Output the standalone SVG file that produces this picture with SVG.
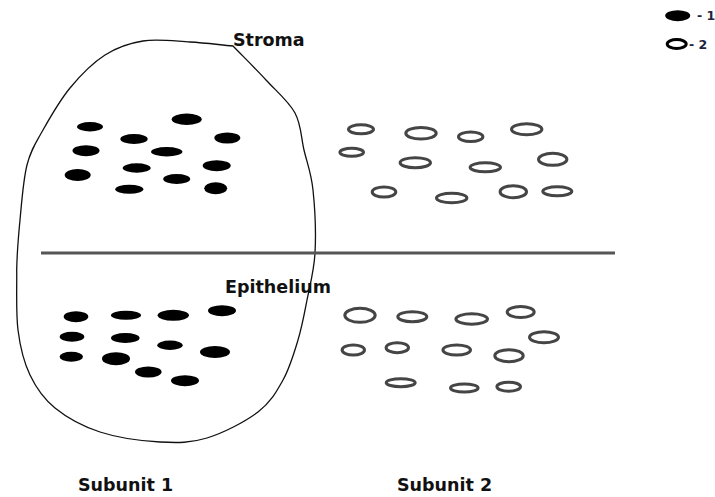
<svg xmlns="http://www.w3.org/2000/svg" width="715" height="497" viewBox="0 0 715 497">
<style>
  .lbl { font-family: "DejaVu Sans", "Liberation Sans", sans-serif; font-weight: bold; font-size: 17.5px; fill: #111; }
  .leg { font-family: "DejaVu Sans", "Liberation Sans", sans-serif; font-weight: bold; font-size: 12.5px; fill: #1c2440; }
  .f { fill: #000; stroke: none; }
  .o { fill: none; stroke: #454545; stroke-width: 3; }
  .outline { fill: none; stroke: #111; stroke-width: 1.3; stroke-linejoin: round; }
  .divider { stroke: #555; stroke-width: 3; }
</style>
<rect width="715" height="497" fill="#fff"/>

<g id="outline">
  <path class="outline" d="M143,41 C157.2,38.8 175,41.2 190,42 C205,42.8 218.7,44.7 233,46 C244,57.3 255.7,68.8 266,80 C276.3,91.2 288.7,101.3 295,113 C301.3,124.7 301,137.2 304,150 C307,162.8 311.2,172.8 313,190 C314.8,207.2 316,234.7 315,253 C314,271.3 309.8,285.5 307,300 C304.2,314.5 302,326.7 298,340 C294,353.3 289.7,368 283,380 C276.3,392 270.7,402.3 258,412 C245.3,421.7 223.3,433 207,438 C190.7,443 177.8,443 160,442 C142.2,441 117.5,437.7 100,432 C82.5,426.3 66.7,417.5 55,408 C43.3,398.5 36.2,388 30,375 C23.8,362 20.2,347.5 18,330 C15.8,312.5 17,288.3 16.7,270 C17,251.7 18.3,237.5 20,220 C21.7,202.5 23.2,180 27,165 C30.8,150 35.8,142.8 43,130 C50.2,117.2 59.7,100.5 70,88 C80.3,75.5 92.8,62.8 105,55 C117.2,47.2 128.8,43.2 143,41 Z"/>
</g>

<g id="divider">
  <line class="divider" x1="41" y1="253" x2="615" y2="253"/>
</g>

<g id="stroma-type1">
  <ellipse class="f" cx="90" cy="126.7" rx="13" ry="4.7"/>
  <ellipse class="f" cx="186.7" cy="119.3" rx="15" ry="5.7"/>
  <ellipse class="f" cx="134" cy="139" rx="13.7" ry="5"/>
  <ellipse class="f" cx="227.3" cy="138" rx="13" ry="5.5"/>
  <ellipse class="f" cx="86" cy="150.7" rx="13.5" ry="5.5"/>
  <ellipse class="f" cx="166.7" cy="151.7" rx="15.7" ry="4.7"/>
  <ellipse class="f" cx="136.7" cy="168" rx="14" ry="4.7"/>
  <ellipse class="f" cx="216.7" cy="165.7" rx="14" ry="5.5"/>
  <ellipse class="f" cx="77.7" cy="175" rx="13" ry="6"/>
  <ellipse class="f" cx="176.7" cy="179" rx="13.5" ry="5"/>
  <ellipse class="f" cx="129.3" cy="189.3" rx="14" ry="4.5"/>
  <ellipse class="f" cx="215.7" cy="188.3" rx="11.5" ry="6"/>
</g>

<g id="stroma-type2">
  <ellipse class="o" cx="361" cy="129.3" rx="12.5" ry="4.5"/>
  <ellipse class="o" cx="421" cy="133.3" rx="15.2" ry="5.8"/>
  <ellipse class="o" cx="470.7" cy="136.7" rx="12.2" ry="4.8"/>
  <ellipse class="o" cx="526.7" cy="129.3" rx="15.2" ry="5.5"/>
  <ellipse class="o" cx="351.7" cy="152.3" rx="11.8" ry="4"/>
  <ellipse class="o" cx="415.3" cy="162.7" rx="15.2" ry="5"/>
  <ellipse class="o" cx="485.3" cy="167.3" rx="15.2" ry="4.5"/>
  <ellipse class="o" cx="552.7" cy="159.3" rx="14.2" ry="6"/>
  <ellipse class="o" cx="384" cy="192" rx="11.8" ry="5"/>
  <ellipse class="o" cx="451.7" cy="198" rx="15.2" ry="4.8"/>
  <ellipse class="o" cx="513.3" cy="191.7" rx="13.2" ry="6"/>
  <ellipse class="o" cx="557.3" cy="191.3" rx="14.5" ry="4.5"/>
</g>

<g id="epithelium-type1">
  <ellipse class="f" cx="76" cy="316.7" rx="12.3" ry="5.5"/>
  <ellipse class="f" cx="126" cy="315.3" rx="15" ry="4.5"/>
  <ellipse class="f" cx="173.3" cy="315.3" rx="15.7" ry="5.5"/>
  <ellipse class="f" cx="222" cy="310.7" rx="14" ry="5.5"/>
  <ellipse class="f" cx="72" cy="336.7" rx="12.3" ry="5"/>
  <ellipse class="f" cx="125.3" cy="338" rx="14.3" ry="5"/>
  <ellipse class="f" cx="170" cy="345.3" rx="12.7" ry="4.7"/>
  <ellipse class="f" cx="215" cy="352" rx="15" ry="6"/>
  <ellipse class="f" cx="71.3" cy="356.7" rx="11.7" ry="5"/>
  <ellipse class="f" cx="116" cy="358.7" rx="14" ry="6.5"/>
  <ellipse class="f" cx="148.3" cy="372" rx="13.3" ry="5.5"/>
  <ellipse class="f" cx="185" cy="380.7" rx="14" ry="5.5"/>
</g>

<g id="epithelium-type2">
  <ellipse class="o" cx="360" cy="315.3" rx="15.2" ry="7"/>
  <ellipse class="o" cx="412.3" cy="316.7" rx="14.5" ry="5"/>
  <ellipse class="o" cx="471.7" cy="319" rx="15.8" ry="5.2"/>
  <ellipse class="o" cx="520.7" cy="312" rx="13.5" ry="5.5"/>
  <ellipse class="o" cx="544" cy="337.3" rx="14.5" ry="5.5"/>
  <ellipse class="o" cx="353.3" cy="350" rx="11.2" ry="5"/>
  <ellipse class="o" cx="397.3" cy="347.7" rx="11.2" ry="5"/>
  <ellipse class="o" cx="456.7" cy="350" rx="13.8" ry="5"/>
  <ellipse class="o" cx="509" cy="355.7" rx="14.2" ry="6"/>
  <ellipse class="o" cx="400.7" cy="382.7" rx="14.5" ry="4"/>
  <ellipse class="o" cx="464.3" cy="388" rx="13.8" ry="4"/>
  <ellipse class="o" cx="508.7" cy="386.7" rx="11.8" ry="4.5"/>
</g>

<g id="legend">
  <ellipse class="f" cx="677.7" cy="15.7" rx="12.5" ry="5.5"/>
  <text class="leg" x="697" y="20">- 1</text>
  <ellipse fill="none" stroke="#000" stroke-width="3" cx="676.7" cy="44" rx="9.5" ry="4.5"/>
  <text class="leg" x="689" y="49">- 2</text>
</g>

<g id="labels">
  <text class="lbl" x="233" y="46">Stroma</text>
  <text class="lbl" x="225" y="293">Epithelium</text>
  <text class="lbl" x="78" y="491">Subunit 1</text>
  <text class="lbl" x="397" y="491">Subunit 2</text>
</g>
</svg>
